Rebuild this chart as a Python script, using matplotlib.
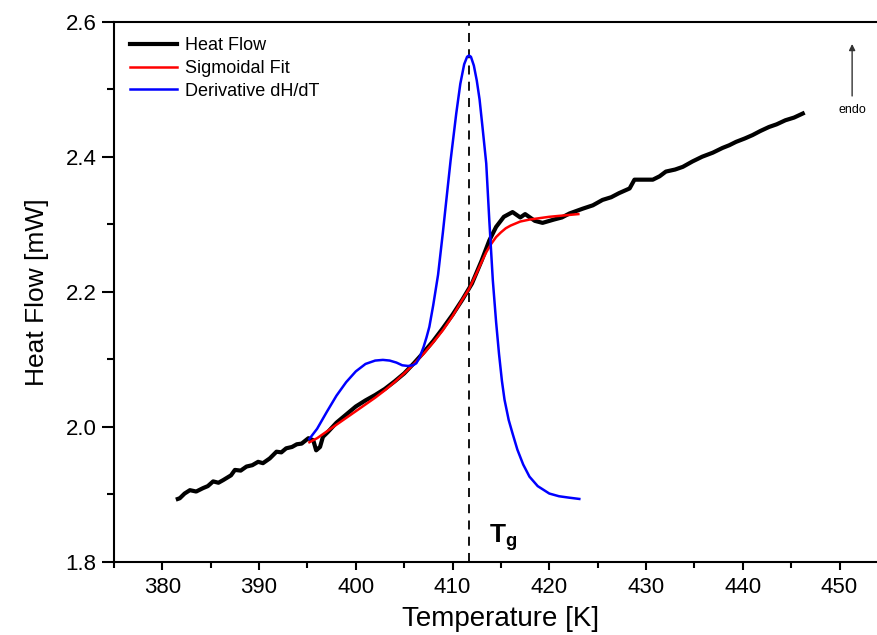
import numpy as np
import matplotlib
matplotlib.use("Agg")
import matplotlib.pyplot as plt
from matplotlib.ticker import MultipleLocator, FormatStrFormatter

plt.rcParams['font.family'] = ['Liberation Sans', 'DejaVu Sans']
plt.rcParams['mathtext.fontset'] = 'custom'
plt.rcParams['mathtext.bf'] = 'Liberation Sans:bold'
plt.rcParams['mathtext.rm'] = 'Liberation Sans'

# Heat flow signal
t_hf = [381.6, 381.8, 382.3, 382.85, 383.5, 384.2, 384.7, 385.25, 385.8, 386.3, 387.1,
        387.5, 388.1, 388.7, 389.3, 389.9, 390.4, 391.1, 391.8, 392.3, 392.8, 393.4,
        393.9, 394.4, 395.1, 395.6, 395.9, 396.3, 396.6, 397.1, 398.0, 399.0, 400.0,
        401.0, 402.0, 403.0, 404.0, 405.0, 406.0, 407.0, 408.0, 409.0, 410.0, 411.0,
        412.0, 413.0, 413.8, 414.5, 415.3, 416.2, 417.0, 417.5, 418.5, 419.3, 420.5,
        421.3, 422.1, 423.45, 424.5, 425.5, 426.4, 427.2, 428.3, 428.8, 429.65, 430.7,
        431.4, 432.05, 433.0, 433.8, 434.8, 435.8, 436.9, 437.9, 438.6, 439.3, 440.2,
        441.0, 441.8, 442.7, 443.5, 444.4, 445.3, 446.2]
hf = [1.893, 1.894, 1.901, 1.906, 1.904, 1.909, 1.912, 1.919, 1.917, 1.921, 1.928,
      1.936, 1.935, 1.941, 1.943, 1.948, 1.946, 1.953, 1.963, 1.962, 1.968, 1.970,
      1.974, 1.975, 1.983, 1.980, 1.965, 1.970, 1.985, 1.992, 2.006, 2.018, 2.030,
      2.039, 2.047, 2.056, 2.067, 2.079, 2.094, 2.110, 2.127, 2.146, 2.166, 2.188,
      2.212, 2.246, 2.276, 2.296, 2.311, 2.318, 2.310, 2.315, 2.305, 2.302, 2.307,
      2.310, 2.316, 2.323, 2.328, 2.336, 2.340, 2.346, 2.353, 2.366, 2.366, 2.366,
      2.371, 2.378, 2.381, 2.385, 2.393, 2.400, 2.406, 2.413, 2.417, 2.422, 2.427,
      2.432, 2.438, 2.444, 2.448, 2.454, 2.458, 2.464]

# Sigmoidal fit
t_fit = [395.2, 396.0, 397.0, 398.0, 399.0, 400.0, 401.0, 402.0, 403.0, 404.0, 405.0,
         406.0, 407.0, 408.0, 409.0, 410.0, 411.0, 411.7, 412.5, 413.0, 413.5, 414.0,
         414.5, 415.0, 415.5, 416.0, 417.0, 418.0, 419.0, 420.0, 421.5, 423.0]
fit = [1.977, 1.983, 1.993, 2.003, 2.013, 2.023, 2.033, 2.043, 2.054, 2.066, 2.079,
       2.093, 2.108, 2.125, 2.143, 2.164, 2.188, 2.204, 2.228, 2.244, 2.259, 2.271,
       2.281, 2.288, 2.294, 2.298, 2.304, 2.307, 2.309, 2.311, 2.313, 2.315]

# Derivative dH/dT (scaled)
t_der = [395.2, 396.0, 397.0, 398.0, 399.0, 400.0, 401.0, 402.0, 402.8, 403.5, 404.2,
         404.8, 405.4, 405.9, 406.25, 406.6, 407.0, 407.3, 407.6, 408.0, 408.5, 409.0,
         409.35, 409.8, 410.38, 410.8, 411.2, 411.5, 411.7, 411.9, 412.2, 412.5, 412.79,
         413.1, 413.48, 413.8, 414.16, 414.5, 414.8, 415.1, 415.37, 415.8, 416.2, 416.7,
         417.3, 417.95, 418.8, 420.0, 421.0, 422.0, 423.1]
der = [1.982, 1.997, 2.022, 2.046, 2.066, 2.082, 2.093, 2.098, 2.099, 2.098, 2.095,
       2.091, 2.090, 2.091, 2.094, 2.103, 2.118, 2.132, 2.148, 2.180, 2.225, 2.288,
       2.335, 2.395, 2.464, 2.508, 2.537, 2.548, 2.550, 2.548, 2.535, 2.513, 2.485,
       2.443, 2.390, 2.305, 2.217, 2.155, 2.108, 2.068, 2.040, 2.010, 1.990, 1.966,
       1.944, 1.926, 1.912, 1.901, 1.897, 1.895, 1.893]

tg = 411.7

fig = plt.figure(figsize=(8.78, 6.35), dpi=100)
ax = fig.add_axes([0.1298, 0.1154, 0.8815, 0.8504])

ax.plot(t_hf, hf, color='black', lw=3.0, label='Heat Flow', zorder=2)
ax.plot(t_fit, fit, color='red', lw=1.8, label='Sigmoidal Fit', zorder=3)
ax.plot(t_der, der, color='blue', lw=1.8, label='Derivative dH/dT', zorder=4)
ax.axvline(tg, color='black', lw=1.3, ls=(0, (5, 4)), zorder=1)

ax.text(413.8, 1.828, r'$\mathbf{T_g}$', fontsize=19, ha='left', va='baseline')

ax.annotate('', xy=(451.3, 2.567), xytext=(451.3, 2.49),
            arrowprops=dict(arrowstyle='-|>', color='#333333', lw=1.0,
                            mutation_scale=9, shrinkA=0, shrinkB=0))
ax.text(451.3, 2.469, 'endo', fontsize=9, ha='center', va='center')

ax.set_xlim(375, 455)
ax.set_ylim(1.8, 2.6)
ax.xaxis.set_major_locator(MultipleLocator(10))
ax.xaxis.set_minor_locator(MultipleLocator(5))
ax.yaxis.set_major_locator(MultipleLocator(0.2))
ax.yaxis.set_minor_locator(MultipleLocator(0.1))
ax.yaxis.set_major_formatter(FormatStrFormatter('%.1f'))

ax.spines['right'].set_visible(False)
for s in ['left', 'bottom', 'top']:
    ax.spines[s].set_linewidth(1.5)
ax.tick_params(axis='both', which='major', labelsize=16, width=1.5, direction='out')
ax.tick_params(axis='x', which='major', length=6, pad=5)
ax.tick_params(axis='y', which='major', length=9)
ax.tick_params(axis='x', which='minor', length=4, width=1.5)
ax.tick_params(axis='y', which='minor', length=5, width=1.5)
ax.tick_params(top=False, right=False, which='both')

ax.set_xlabel('Temperature [K]', fontsize=20, labelpad=6)
ax.set_ylabel('Heat Flow [mW]', fontsize=19, labelpad=12)

ax.legend(loc='upper left', bbox_to_anchor=(0.004, 0.995), frameon=False, fontsize=13,
          handlelength=2.6, handletextpad=0.45, labelspacing=0.32, borderaxespad=0.3)

fig.savefig('out.png', dpi=100)
